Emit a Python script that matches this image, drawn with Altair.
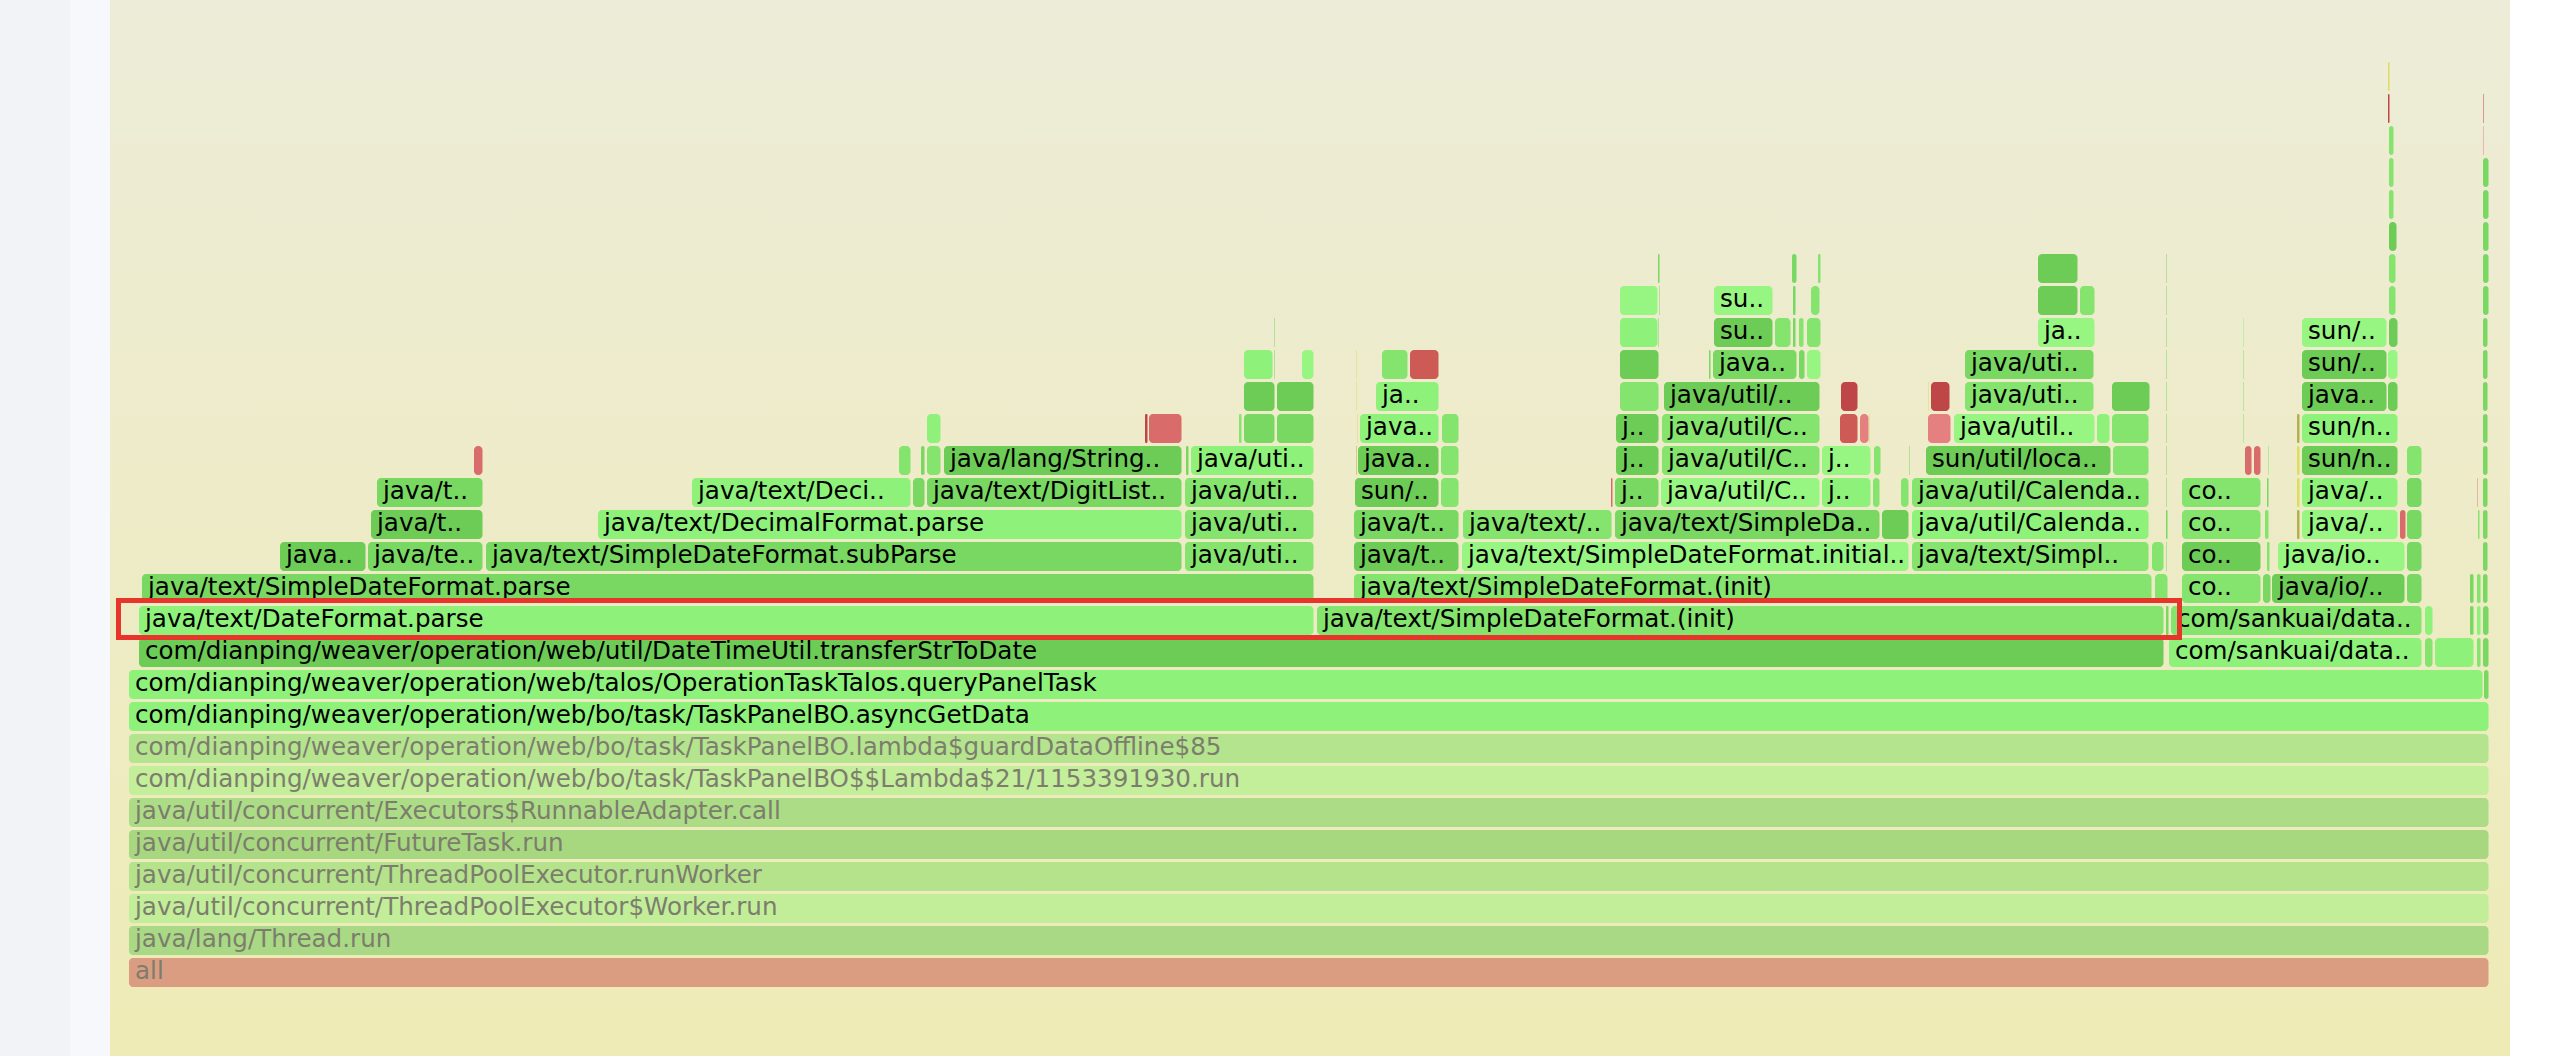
import altair as alt
import pandas as pd

# Flame graph: each frame = (start_sample, end_sample, label, colour kind); "all" spans 2361 samples.
row_00 = [(0, 2361, "all", "f0")]
row_01 = [(0, 2361, "java/lang/Thread.run", "f1")]
row_02 = [(0, 2361, "java/util/concurrent/ThreadPoolExecutor$Worker.run", "f2")]
row_03 = [(0, 2361, "java/util/concurrent/ThreadPoolExecutor.runWorker", "f3")]
row_04 = [(0, 2361, "java/util/concurrent/FutureTask.run", "f4")]
row_05 = [(0, 2361, "java/util/concurrent/Executors$RunnableAdapter.call", "f5")]
row_06 = [(0, 2361, "com/dianping/weaver/operation/web/bo/task/TaskPanelBO$$Lambda$21/1153391930.run", "f6")]
row_07 = [(0, 2361, "com/dianping/weaver/operation/web/bo/task/TaskPanelBO.lambda$guardDataOffline$85", "f7")]
row_08 = [(0, 2361, "com/dianping/weaver/operation/web/bo/task/TaskPanelBO.asyncGetData", "a")]
row_09 = [(0, 2355, "com/dianping/weaver/operation/web/talos/OperationTaskTalos.queryPanelTask", "a"),
          (2355, 2361, "", "c")]
row_10 = [(10, 2036, "com/dianping/weaver/operation/web/util/DateTimeUtil.transferStrToDate", "d"),
          (2040, 2294, "com/sankuai/data..", "a"), (2296, 2305, "", "b"), (2306, 2346, "", "a"),
          (2348, 2353, "", "b"), (2354, 2361, "", "c")]
row_11 = [(10, 1186, "java/text/DateFormat.parse", "a"), (1188, 2036, "java/text/SimpleDateFormat.(init)", "b"),
          (2037, 2041, "", "c"), (2042, 2294, "com/sankuai/data..", "b"), (2296, 2305, "", "a"),
          (2341, 2346, "", "c"), (2348, 2353, "", "a"), (2354, 2361, "", "c")]
row_12 = [(13, 1186, "java/text/SimpleDateFormat.parse", "c"), (1225, 2024, "java/text/SimpleDateFormat.(init)", "b"),
          (2026, 2040, "", "b"), (2053, 2133, "co..", "b"), (2134, 2143, "", "c"), (2143, 2277, "java/io/..", "d"),
          (2278, 2294, "", "c"), (2341, 2346, "", "c"), (2348, 2353, "", "b"), (2354, 2360, "", "c")]
row_13 = [(151, 238, "java..", "d"), (239, 355, "java/te..", "c"), (357, 1054, "java/text/SimpleDateFormat.subParse", "c"),
          (1056, 1186, "java/uti..", "b"), (1225, 1331, "java/t..", "d"),
          (1333, 1781, "java/text/SimpleDateFormat.initial..", "e"), (1783, 2021, "java/text/Simpl..", "b"),
          (2023, 2036, "", "b"), (2037, 2039, "", "c"), (2053, 2133, "co..", "d"), (2138, 2142, "", "b"),
          (2149, 2277, "java/io..", "e"), (2278, 2294, "", "c"), (2354, 2360, "", "c")]
row_14 = [(242, 355, "java/t..", "d"), (469, 1054, "java/text/DecimalFormat.parse", "a"), (1056, 1186, "java/uti..", "b"),
          (1225, 1331, "java/t..", "c"), (1334, 1484, "java/text/..", "b"), (1486, 1752, "java/text/SimpleDa..", "c"),
          (1753, 1781, "", "d"), (1783, 2021, "java/util/Calenda..", "a"), (2037, 2040, "", "c"),
          (2053, 2133, "co..", "b"), (2136, 2141, "", "b"), (2168, 2172, "", "o"), (2173, 2270, "java/..", "e"),
          (2271, 2278, "", "r"), (2278, 2294, "", "c"), (2349, 2352, "", "b"), (2354, 2360, "", "c")]
row_15 = [(248, 355, "java/t..", "c"), (563, 783, "java/text/Deci..", "a"), (784, 797, "", "c"),
          (798, 1054, "java/text/DigitList..", "c"), (1056, 1186, "java/uti..", "b"), (1226, 1311, "sun/..", "d"),
          (1312, 1331, "", "b"), (1482, 1485, "", "r"), (1486, 1531, "j..", "c"), (1532, 1692, "java/util/C..", "e"),
          (1693, 1743, "j..", "a"), (1744, 1752, "", "b"), (1772, 1781, "", "b"),
          (1783, 2021, "java/util/Calenda..", "b"), (2037, 2039, "", "c"), (2053, 2133, "co..", "b"),
          (2138, 2141, "", "c"), (2168, 2172, "", "y"), (2173, 2270, "java/..", "a"), (2278, 2294, "", "c"),
          (2348, 2350, "", "p"), (2354, 2360, "", "c")]
row_16 = [(345, 355, "", "r"), (770, 783, "", "b"), (792, 797, "", "c"), (798, 813, "", "b"),
          (815, 1054, "java/lang/String..", "d"), (1057, 1061, "", "c"), (1062, 1186, "java/uti..", "a"),
          (1228, 1229, "", "o"), (1229, 1311, "java..", "d"), (1312, 1331, "", "b"), (1487, 1531, "j..", "d"),
          (1533, 1692, "java/util/C..", "b"), (1693, 1743, "j..", "e"), (1745, 1753, "", "b"), (1781, 1782, "", "c"),
          (1797, 1983, "sun/util/loca..", "d"), (1984, 2021, "", "b"), (2037, 2039, "", "c"), (2116, 2124, "", "r"),
          (2125, 2133, "", "r"), (2139, 2141, "", "b"), (2168, 2172, "", "y"), (2173, 2270, "sun/n..", "d"),
          (2278, 2294, "", "b"), (2354, 2360, "", "c")]
row_17 = [(798, 813, "", "a"), (1016, 1020, "", "R"), (1020, 1054, "", "r"), (1110, 1114, "", "b"),
          (1115, 1147, "", "c"), (1148, 1186, "", "c"), (1228, 1230, "", "y"), (1231, 1311, "java..", "a"),
          (1313, 1331, "", "b"), (1487, 1531, "j..", "d"), (1533, 1692, "java/util/C..", "b"), (1711, 1730, "", "m"),
          (1731, 1741, "", "p"), (1741, 1742, "", "y"), (1799, 1823, "", "p"), (1825, 1967, "java/util..", "e"),
          (1968, 1982, "", "a"), (1983, 2021, "", "b"), (2037, 2039, "", "c"), (2115, 2116, "", "b"),
          (2168, 2172, "", "o"), (2173, 2270, "sun/n..", "a"), (2354, 2360, "", "c")]
row_18 = [(1115, 1147, "", "d"), (1148, 1186, "", "d"), (1228, 1229, "", "y"), (1247, 1311, "ja..", "a"),
          (1491, 1531, "", "b"), (1535, 1692, "java/util/..", "d"), (1712, 1730, "", "R"), (1800, 1801, "", "y"),
          (1802, 1822, "", "R"), (1836, 1966, "java/uti..", "b"), (1983, 2022, "", "d"), (2037, 2039, "", "c"),
          (2115, 2116, "", "b"), (2173, 2259, "java..", "d"), (2259, 2270, "", "d"), (2354, 2360, "", "c")]
row_19 = [(1115, 1145, "", "a"), (1146, 1147, "", "c"), (1173, 1186, "", "e"), (1228, 1229, "", "y"),
          (1253, 1280, "", "b"), (1281, 1311, "", "m"), (1491, 1531, "", "d"), (1580, 1583, "", "c"),
          (1584, 1669, "java..", "c"), (1670, 1677, "", "c"), (1678, 1693, "", "e"), (1836, 1966, "java/uti..", "c"),
          (2037, 2039, "", "c"), (2115, 2116, "", "b"), (2173, 2259, "sun/..", "d"), (2259, 2270, "", "e"),
          (2354, 2360, "", "c")]
row_20 = [(1145, 1147, "", "c"), (1491, 1530, "", "a"), (1530, 1531, "", "c"), (1585, 1645, "su..", "d"),
          (1646, 1663, "", "b"), (1664, 1668, "", "c"), (1670, 1676, "", "b"), (1678, 1693, "", "b"),
          (1909, 1967, "ja..", "e"), (2037, 2039, "", "c"), (2115, 2116, "", "a"), (2173, 2259, "sun/..", "e"),
          (2260, 2270, "", "d"), (2354, 2360, "", "c")]
row_21 = [(1491, 1530, "", "e"), (1530, 1532, "", "c"), (1585, 1645, "su..", "e"), (1664, 1668, "", "c"),
          (1682, 1692, "", "b"), (1909, 1950, "", "d"), (1951, 1967, "", "b"), (2037, 2039, "", "c"),
          (2260, 2268, "", "b"), (2354, 2361, "", "c")]
row_22 = [(1529, 1532, "", "c"), (1663, 1669, "", "c"), (1689, 1693, "", "b"), (1909, 1950, "", "d"),
          (2037, 2039, "", "c"), (2260, 2268, "", "b"), (2354, 2361, "", "c")]
row_23 = [(2260, 2269, "", "d"), (2354, 2361, "", "c")]
row_24 = [(2260, 2266, "", "b"), (2354, 2361, "", "c")]
row_25 = [(2260, 2266, "", "b"), (2354, 2361, "", "c")]
row_26 = [(2260, 2266, "", "b"), (2354, 2356, "", "p")]
row_27 = [(2259, 2262, "", "R"), (2354, 2356, "", "R")]
row_28 = [(2259, 2262, "", "y")]

rows = [row_00, row_01, row_02, row_03, row_04, row_05, row_06, row_07, row_08, row_09,
        row_10, row_11, row_12, row_13, row_14, row_15, row_16, row_17, row_18, row_19,
        row_20, row_21, row_22, row_23, row_24, row_25, row_26, row_27, row_28]

kind_names = ["f0", "f1", "f2", "f3", "f4", "f5", "f6", "f7",
              "a", "b", "c", "d", "e", "r", "m", "R", "p", "y", "o"]
kind_colors = ["#da9d81", "#a9d984", "#c2ee99", "#b4e38c", "#a7d880", "#acdc86", "#c3ee9a", "#b4e48d",
               "#8ef27a", "#84e46e", "#78d862", "#6ccc56", "#97f582", "#d96b6b", "#cd5a55", "#be4646",
               "#e58080", "#dede5e", "#b3b04e"]

# highlighted frame box (sample units, depth)
highlight_depth = [11]
highlight_start = [-10.5]
highlight_end = [2050.5]

records = []
for depth, row in enumerate(rows):
    for s, e, label, kind in row:
        records.append({"depth": depth, "top": depth + 1, "start": s, "end": e,
                        "label": label, "kind": kind})
df = pd.DataFrame(records)
hl = pd.DataFrame({"depth": highlight_depth, "start": highlight_start, "end": highlight_end})
hl["top"] = hl["depth"] + 1

W, H = 2568, 1056
xs = alt.Scale(domain=[-129, 2439], nice=False, zero=False)
ys = alt.Scale(domain=[-2.125, 30.875], nice=False, zero=False)

page = alt.Chart(pd.DataFrame({"k": [0]})).mark_rect(color="#f2f3f7").encode(
    x=alt.value(0), x2=alt.value(70), y=alt.value(0), y2=alt.value(H))
stripe = alt.Chart(pd.DataFrame({"k": [0]})).mark_rect(color="#f7f8fc").encode(
    x=alt.value(70), x2=alt.value(110), y=alt.value(0), y2=alt.value(H))
bg = alt.Chart(pd.DataFrame({"k": [0]})).mark_rect(
    color=alt.Gradient(gradient="linear",
                       stops=[alt.GradientStop(color="#edecd8", offset=0),
                              alt.GradientStop(color="#eeebb6", offset=1)],
                       x1=0, x2=0, y1=0, y2=1)
).encode(x=alt.value(110), x2=alt.value(2510), y=alt.value(0), y2=alt.value(H))

bars = alt.Chart(df).mark_rect(cornerRadius=4, x2Offset=-1.5, yOffset=-1, y2Offset=2).encode(
    x=alt.X("start:Q", scale=xs, axis=None),
    x2="end:Q",
    y=alt.Y("depth:Q", scale=ys, axis=None),
    y2="top:Q",
    color=alt.Color("kind:N", scale=alt.Scale(domain=kind_names, range=kind_colors), legend=None),
)

labels = alt.Chart(df).transform_filter("datum.label != ''").transform_calculate(
    mid="datum.depth + 0.5"
).mark_text(align="left", baseline="alphabetic", dx=6, dy=6.5, font="DejaVu Sans", fontSize=24.6).encode(
    x=alt.X("start:Q", scale=xs, axis=None),
    y=alt.Y("mid:Q", scale=ys, axis=None),
    text="label:N",
    color=alt.condition("datum.depth <= 7", alt.value("#7d7d6e"), alt.value("#000000")),
)

box = alt.Chart(hl).mark_rect(filled=False, stroke="#e8352b", strokeWidth=5, yOffset=1.5, y2Offset=-3.5).encode(
    x=alt.X("start:Q", scale=xs, axis=None),
    x2="end:Q",
    y=alt.Y("depth:Q", scale=ys, axis=None),
    y2="top:Q",
)

chart = alt.layer(page, stripe, bg, bars, labels, box).properties(
    width=W, height=H, padding=0, autosize=alt.AutoSizeParams(type="none"), background="white"
).configure_view(strokeWidth=0)

chart.save("out.html", embed_options={"renderer": "svg", "actions": False})
